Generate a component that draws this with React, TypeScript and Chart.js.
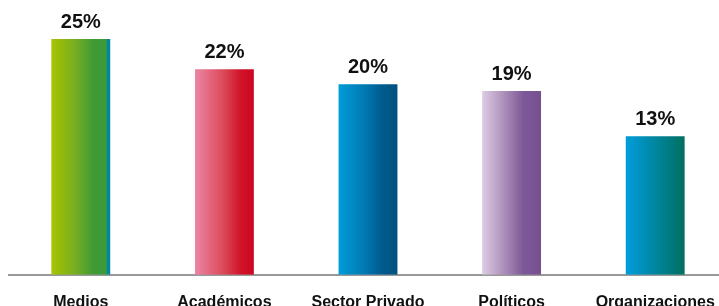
import React, { useEffect, useRef } from "react";
import { Chart, registerables } from "chart.js";

Chart.register(...registerables);

const categories = ["Medios", "Académicos", "Sector Privado", "Políticos", "Organizaciones"];
const values = [25, 21.8, 20.2, 19.5, 14.7];
const valueLabels = ["25%", "22%", "20%", "19%", "13%"];
const gradientStops: [number, string][][] = [
  [[0, "#a7c400"], [0.4, "#78ae22"], [0.72, "#3f9a35"], [0.93, "#3c9a38"], [0.95, "#008a9c"], [1, "#00869c"]],
  [[0, "#ec85a4"], [0.45, "#dc4e5f"], [0.78, "#d01428"], [1, "#cc0423"]],
  [[0, "#009cd9"], [0.45, "#0079b0"], [0.75, "#005a8e"], [1, "#00527f"]],
  [[0, "#ddcde4"], [0.4, "#a98ab7"], [0.7, "#7d5897"], [1, "#774f90"]],
  [[0, "#009ddc"], [0.5, "#00869f"], [1, "#006f60"]],
];

const BAR_PCT = 0.41;

const valueLabelPlugin = {
  id: "valueLabels",
  afterDatasetsDraw(chart: any) {
    const ctx = chart.ctx;
    const meta = chart.getDatasetMeta(0);
    ctx.save();
    ctx.font = "bold 20px 'Liberation Sans', Arial, sans-serif";
    ctx.fillStyle = "#111";
    ctx.textAlign = "center";
    ctx.textBaseline = "alphabetic";
    meta.data.forEach((el: any, i: number) => {
      ctx.fillText(valueLabels[i], el.x, el.y - 11);
    });
    ctx.restore();
  },
};

export default function App() {
  const ref = useRef<HTMLCanvasElement>(null);
  useEffect(() => {
    if (!ref.current) return;
    const chart = new Chart(ref.current, {
      type: "bar",
      data: {
        labels: categories,
        datasets: [
          {
            data: values,
            backgroundColor: (c: any) => {
              const ch = c.chart;
              const xs = ch.scales?.x;
              const i = c.dataIndex;
              if (!ch.chartArea || !xs || i === undefined) return gradientStops[i ?? 0][0][1];
              const cx = xs.getPixelForValue(i);
              const half = ((xs.width / categories.length) * BAR_PCT) / 2;
              const g = ch.ctx.createLinearGradient(cx - half, 0, cx + half, 0);
              gradientStops[i].forEach(([o, col]) => g.addColorStop(o, col));
              return g;
            },
            borderWidth: 0,
            barPercentage: BAR_PCT,
            categoryPercentage: 1,
          },
        ],
      },
      options: {
        animation: false,
        responsive: false,
        maintainAspectRatio: false,
        layout: { padding: { left: 9, right: 13, top: 0, bottom: 0 } },
        plugins: { legend: { display: false }, tooltip: { enabled: false } },
        scales: {
          x: {
            grid: { display: false, drawTicks: false },
            border: { display: true, color: "#999999", width: 2 },
            ticks: {
              color: "#111",
              padding: 18,
              maxRotation: 0,
              autoSkip: false,
              font: { family: "'Liberation Sans', Arial, sans-serif", size: 16, weight: "bold" },
            },
          },
          y: { display: false, min: 0, max: 29.15 },
        },
      },
      plugins: [valueLabelPlugin],
    });
    return () => chart.destroy();
  }, []);
  return (
    <div style={{ position: "fixed", left: 0, top: 0, width: 719, height: 306, overflow: "hidden", background: "#fff" }}>
      <canvas ref={ref} width={740} height={330} style={{ position: "absolute", left: 0, top: 0, width: 740, height: 330 }} />
    </div>
  );
}
